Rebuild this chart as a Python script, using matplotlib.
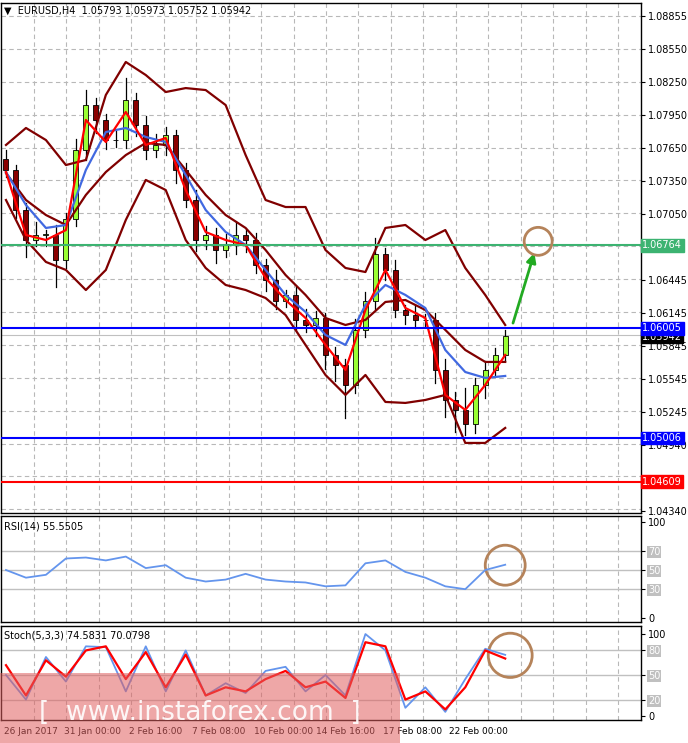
import numpy as np
import matplotlib
matplotlib.use("Agg")
import matplotlib.pyplot as plt
from matplotlib.patches import Ellipse, Rectangle

# ---- data ----
closes = [1.0745, 1.0709, 1.0681, 1.0686, 1.0686, 1.0663, 1.0700, 1.0763, 1.0804, 1.0791,
          1.0772, 1.0772, 1.0809, 1.0786, 1.0763, 1.0768, 1.0777, 1.0745, 1.0718, 1.0681,
          1.0686, 1.0672, 1.0677, 1.0686, 1.0681, 1.0658, 1.0645, 1.0626, 1.0631, 1.0608,
          1.0604, 1.0610, 1.0576, 1.0567, 1.0549, 1.0599, 1.0626, 1.0668, 1.0654, 1.0617,
          1.0613, 1.0608, 1.0608, 1.0563, 1.0535, 1.0526, 1.0513, 1.0549, 1.0563, 1.0576,
          1.0594]
first_open = 1.0755
# wick extensions in pips
up_wick = [8, 5, 6, 12, 4, 9, 6, 10, 14, 7, 5, 9, 20, 6, 8, 10, 7, 5, 6, 9,
           8, 6, 10, 12, 5, 7, 6, 9, 5, 8, 10, 6, 5, 8, 6, 10, 8, 15, 6, 9,
           5, 8, 6, 7, 10, 8, 20, 6, 8, 7, 5]
dn_wick = [6, 8, 15, 5, 10, 25, 7, 6, 9, 12, 8, 6, 7, 10, 8, 6, 9, 12, 7, 10,
           8, 12, 6, 9, 11, 7, 10, 8, 6, 9, 7, 10, 12, 14, 30, 7, 6, 8, 9, 6,
           8, 7, 6, 12, 15, 20, 10, 8, 12, 6, 5]

line_idx = list(range(0, 51, 2))
bb_upper = [1.07679, 1.07834, 1.07724, 1.07496, 1.07542, 1.08135, 1.08436, 1.08317, 1.08162, 1.08198,
            1.08180, 1.08043, 1.07587, 1.07177, 1.07113, 1.07113, 1.06721, 1.06557, 1.06520, 1.06922,
            1.06949, 1.06812, 1.06903, 1.06557, 1.06311, 1.06037]
bb_lower = [1.07177, 1.06812, 1.06612, 1.06539, 1.06356, 1.06539, 1.06995, 1.07360, 1.07268, 1.06812,
            1.06557, 1.06402, 1.06356, 1.06283, 1.06128, 1.05855, 1.05581, 1.05399, 1.05581, 1.05335,
            1.05326, 1.05353, 1.05399, 1.04961, 1.04961, 1.05098]
bb_mid = [1.07423, 1.07177, 1.07040, 1.06949, 1.07223, 1.07432, 1.07587, 1.07697, 1.07679, 1.07451,
          1.07223, 1.07040, 1.06922, 1.06721, 1.06493, 1.06311, 1.06101, 1.06037, 1.06083, 1.06247,
          1.06265, 1.06174, 1.05992, 1.05809, 1.05700, 1.05700]
ma_blue = [1.07432, 1.07131, 1.06922, 1.06949, 1.07451, 1.07797, 1.07834, 1.07752, 1.07706, 1.07405,
           1.07086, 1.06885, 1.06767, 1.06539, 1.06311, 1.06156, 1.05946, 1.05855, 1.06220, 1.06402,
           1.06311, 1.06192, 1.05809, 1.05608, 1.05554, 1.05572]
ma_red = [1.07432, 1.06858, 1.06812, 1.06903, 1.07907, 1.07706, 1.07980, 1.07679, 1.07743, 1.07268,
          1.06885, 1.06812, 1.06767, 1.06466, 1.06265, 1.06101, 1.05855, 1.05627, 1.06174, 1.06539,
          1.06192, 1.06101, 1.05399, 1.05262, 1.05490, 1.05764]

rsi = [50, 42, 45, 62, 63, 60, 64, 52, 55, 42, 38, 40, 46, 40, 38, 37, 33, 34, 57, 60,
       48, 42, 33, 30, 50, 55.5]
stoch_k = [50, 20, 72, 42, 85, 84, 30, 85, 30, 80, 25, 40, 28, 55, 60, 30, 50, 25, 100, 80,
           10, 35, 5, 45, 82, 74.6]
stoch_d = [62, 25, 68, 48, 80, 85, 45, 78, 35, 75, 25, 35, 30, 45, 55, 35, 42, 22, 90, 85,
           20, 30, 8, 35, 80, 70.1]

levels = [(1.06764, "#3cb371"), (1.06005, "#0000ff"), (1.05006, "#0000ff"), (1.04609, "#ff0000")]
last_price = 1.05942
price_ticks = [1.08855, 1.08550, 1.08250, 1.07950, 1.07650, 1.07350, 1.07050, 1.06445,
               1.06145, 1.05845, 1.05545, 1.05245, 1.04940, 1.04340]
date_labels = ["26 Jan 2017", "31 Jan 00:00", "2 Feb 16:00", "7 Feb 08:00",
               "10 Feb 00:00", "14 Feb 16:00", "17 Feb 08:00", "22 Feb 00:00"]
date_pos = [2.5, 8.7, 15.0, 21.3, 27.8, 34.0, 40.7, 47.3]

W, H = 688, 743
fig = plt.figure(figsize=(W / 100, H / 100), dpi=100)
fig.patch.set_facecolor("white")


def px_axes(x0, y0, x1, y1):
    return fig.add_axes([x0 / W, 1 - y1 / H, (x1 - x0) / W, (y1 - y0) / H])


ax = px_axes(1, 3, 641, 513)
ax_rsi = px_axes(1, 516, 641, 622)
ax_st = px_axes(1, 626, 641, 720)
xlim = (-0.5, 63.6)
grid_x = np.arange(2.8, 64, 3.25)

for a in (ax, ax_rsi, ax_st):
    a.set_xlim(*xlim)
    a.set_xticks([])
    a.yaxis.tick_right()
    a.tick_params(axis="y", labelsize=7, length=3, pad=2)
    for s in a.spines.values():
        s.set_linewidth(1)
    for gx in grid_x:
        a.axvline(gx, color="#b8b8b8", lw=0.8, ls=(0, (4, 3)), zorder=0)

# ---- main price panel ----
ax.set_ylim(1.04322, 1.08974)
for p in np.arange(1.08855, 1.043, -0.003):
    ax.axhline(p, color="#b8b8b8", lw=0.8, ls=(0, (4, 3)), zorder=0)
ax.set_yticks(price_ticks)
ax.set_yticklabels([f"{p:.5f}" for p in price_ticks])

opens = [first_open] + closes[:-1]
for i, (o, c) in enumerate(zip(opens, closes)):
    hi = max(o, c) + up_wick[i] * 1e-4
    lo = min(o, c) - dn_wick[i] * 1e-4
    ax.plot([i, i], [lo, hi], color="black", lw=0.9, zorder=2)
    col = "#99ff33" if c >= o else "#8b0000"
    ax.add_patch(Rectangle((i - 0.25, min(o, c)), 0.5, max(abs(c - o), 0.00005),
                           facecolor=col, edgecolor="black", lw=0.6, zorder=3))

ax.plot(line_idx, bb_upper, color="#800000", lw=1.6, zorder=4)
ax.plot(line_idx, bb_lower, color="#800000", lw=1.6, zorder=4)
ax.plot(line_idx, bb_mid, color="#800000", lw=1.6, zorder=4)
ax.plot(line_idx, ma_blue, color="#4169e1", lw=1.6, zorder=5)
ax.plot(line_idx, ma_red, color="#ff0000", lw=1.6, zorder=6)

ax.axhline(last_price, color="#c0c0c0", lw=0.8, zorder=1)
ax.text(1.002, last_price - 0.00012, f"{last_price:.5f}", transform=ax.get_yaxis_transform(),
        fontsize=7, color="white", va="center", ha="left",
        bbox=dict(boxstyle="square,pad=0.1", fc="black", ec="black"), zorder=9, clip_on=False)
for val, col in levels:
    ax.axhline(val, color=col, lw=1.5, zorder=7)
    ax.text(1.002, val, f"{val:.5f}", transform=ax.get_yaxis_transform(), fontsize=7,
            color="white", va="center", ha="left",
            bbox=dict(boxstyle="square,pad=0.15", fc=col, ec=col), zorder=10, clip_on=False)

ax.annotate("", xy=(53.0, 1.0672), xytext=(50.7, 1.0603),
            arrowprops=dict(arrowstyle="-|>", color="#22aa22", lw=2, mutation_scale=14))
ax.add_patch(Ellipse((53.3, 1.0680), 2.8, 0.00255, fill=False, ec="#b5835a", lw=2, zorder=8))
ax.text(0.005, 0.995, "\u25bc  EURUSD,H4  1.05793 1.05973 1.05752 1.05942",
        transform=ax.transAxes, fontsize=7, va="top", ha="left")

# ---- RSI panel ----
ax_rsi.set_ylim(-4.2, 106.3)
for lv in (70, 50, 30):
    ax_rsi.axhline(lv, color="#c0c0c0", lw=1, zorder=0)
ax_rsi.plot(line_idx, rsi, color="#6495ed", lw=1.3)
ax_rsi.set_yticks([100, 70, 50, 30, 0])
ax_rsi.set_yticklabels(["100", "70", "50", "30", "0"])
for lab in ax_rsi.get_yticklabels()[1:4]:
    lab.set_color("white")
    lab.set_bbox(dict(boxstyle="square,pad=0.1", fc="#c0c0c0", ec="none"))
ax_rsi.add_patch(Ellipse((50, 55), 4.0, 41.7, fill=False, ec="#b5835a", lw=2))
ax_rsi.text(0.005, 0.95, "RSI(14) 55.5505", transform=ax_rsi.transAxes, fontsize=7, va="top")

# ---- Stochastic panel ----
ax_st.set_ylim(-4.9, 109.8)
for lv in (80, 50, 20):
    ax_st.axhline(lv, color="#c0c0c0", lw=1, zorder=0)
ax_st.plot(line_idx, stoch_k, color="#6495ed", lw=1.3)
ax_st.plot(line_idx, stoch_d, color="#ff0000", lw=1.6)
ax_st.set_yticks([100, 80, 50, 20, 0])
ax_st.set_yticklabels(["100", "80", "50", "20", "0"])
for lab in ax_st.get_yticklabels()[1:4]:
    lab.set_color("white")
    lab.set_bbox(dict(boxstyle="square,pad=0.1", fc="#c0c0c0", ec="none"))
ax_st.add_patch(Ellipse((50.5, 74), 4.4, 54, fill=False, ec="#b5835a", lw=2))
ax_st.text(0.005, 0.95, "Stoch(5,3,3) 74.5831 70.0798", transform=ax_st.transAxes,
           fontsize=7, va="top")

# date labels
for lab, pos in zip(date_labels, date_pos):
    xf = ax_st.transData.transform((pos, 0))[0]
    fig.text(xf / W, 1 - 732 / H, lab, fontsize=6.5, ha="center", va="center")

# watermark
fig.patches.append(Rectangle((0, 0), 400 / W, 70 / H, transform=fig.transFigure,
                             facecolor="#e06060", alpha=0.55, edgecolor="none", zorder=20))
fig.text(200 / W, 30 / H, "[  www.instaforex.com  ]", fontsize=19, color="white",
         ha="center", va="center", alpha=0.9, zorder=21)

fig.savefig("out.png", dpi=100)
